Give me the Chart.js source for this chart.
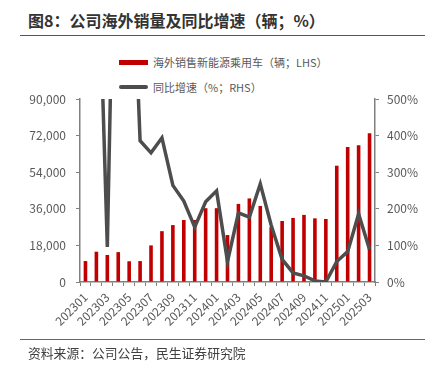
<!DOCTYPE html>
<html>
<head>
<meta charset="utf-8">
<script src="https://cdn.jsdelivr.net/npm/chart.js@4"></script>
<style>
  html, body { margin: 0; padding: 0; background: #fff; }
  body { width: 434px; height: 373px; position: relative; overflow: hidden;
         font-family: "Noto Sans CJK SC", "Noto Sans", sans-serif; }
  #title { position: absolute; left: 28px; top: 8px; font-size: 16px; font-weight: bold; color: #333; white-space: nowrap; }
  #topline { position: absolute; left: 20px; top: 35px; width: 405px; height: 0; border-top: 1.5px solid #555; }
  #botline { position: absolute; left: 20px; top: 339px; width: 405px; height: 0; border-top: 1.5px solid #666; }
  #source { position: absolute; left: 28px; top: 343px; font-size: 12.8px; color: #404040; white-space: nowrap; }
  .leg { position: absolute; left: 119px; font-size: 11px; color: #595959; white-space: nowrap; display: flex; align-items: center; }
  .leg .mk { display: inline-block; width: 29px; margin-right: 5px; }
  #leg1 { top: 54px; }
  #leg1 .mk { height: 5px; background: #C00000; }
  #leg2 { top: 79px; }
  #leg2 .mk { height: 4px; background: #4d4d4d; border-radius: 2px; }
  canvas { position: absolute; left: 0; top: 0; }
</style>
</head>
<body>
<div id="title">图8：公司海外销量及同比增速（辆；%）</div>
<div id="topline"></div>
<div class="leg" id="leg1"><span class="mk"></span><span>海外销售新能源乘用车（辆；LHS）</span></div>
<div class="leg" id="leg2"><span class="mk"></span><span>同比增速（%；RHS）</span></div>
<canvas id="c" width="434" height="373"></canvas>
<div id="botline"></div>
<div id="source">资料来源：公司公告，民生证券研究院</div>
<script>
const months = ['202301','202302','202303','202304','202305','202306','202307','202308','202309','202310','202311','202312',
                '202401','202402','202403','202404','202405','202406','202407','202408','202409','202410','202411','202412',
                '202501','202502','202503'];
const overseasSales = [10300, 14900, 13300, 14700, 10200, 10300, 18000, 25000, 28000, 30500, 30500, 36300,
                       36300, 23100, 38400, 41100, 37400, 27000, 30000, 31500, 33000, 31300, 31000, 57200,
                       66400, 67200, 73100];
const yoyGrowth = [1200, 1090, 96, 1570, 1140, 386, 353, 394, 264, 221, 150, 219,
                   249, 56, 189, 177, 268, 155, 62, 25, 17, 3, 0, 56,
                   83, 186, 89];
const leftTicks = [0, 18000, 36000, 54000, 72000, 90000];
const rightTicks = [0, 100, 200, 300, 400, 500];

const tickFont = { family: '"Noto Sans CJK SC", "Noto Sans", sans-serif', size: 12 };
const tickColor = '#595959';
const axisColor = '#808080';

new Chart(document.getElementById('c'), {
  data: {
    labels: months,
    datasets: [
      { type: 'line', label: '同比增速（%；RHS）', data: yoyGrowth, yAxisID: 'y1', order: 0,
        borderColor: '#4d4d4d', borderWidth: 3.5, pointRadius: 0, tension: 0, fill: false },
      { type: 'bar', label: '海外销售新能源乘用车（辆；LHS）', data: overseasSales, yAxisID: 'y', order: 1,
        backgroundColor: '#C00000', barPercentage: 0.33, categoryPercentage: 1 }
    ]
  },
  options: {
    responsive: false,
    animation: false,
    layout: { padding: { top: 99, left: 0, right: 0, bottom: 0 } },
    plugins: { legend: { display: false }, tooltip: { enabled: false } },
    scales: {
      x: {
        offset: true,
        grid: { display: true, drawOnChartArea: false, drawTicks: true, tickLength: 4, color: axisColor, offset: true },
        border: { display: true, color: axisColor, width: 1.5 },
        ticks: { autoSkip: false, maxRotation: 45, minRotation: 45, color: tickColor, font: tickFont, padding: 4,
                 callback: function(v, i) { return i % 2 === 0 ? months[i] : ''; } },
        afterFit: function(s) { s.height = 91; }
      },
      y: {
        position: 'left', min: 0, max: 90000,
        afterBuildTicks: function(s) { s.ticks = leftTicks.map(v => ({ value: v })); },
        grid: { display: true, drawOnChartArea: false, drawTicks: true, tickLength: 4, color: axisColor },
        border: { display: true, color: axisColor, width: 1.5 },
        ticks: { color: tickColor, font: tickFont, padding: 10,
                 callback: function(v) { return v.toLocaleString('en-US'); } },
        afterFit: function(s) { s.width = 80; }
      },
      y1: {
        position: 'right', min: 0, max: 500,
        afterBuildTicks: function(s) { s.ticks = rightTicks.map(v => ({ value: v })); },
        grid: { display: true, drawOnChartArea: false, drawTicks: true, tickLength: 4, color: axisColor },
        border: { display: true, color: axisColor, width: 1.5 },
        ticks: { color: tickColor, font: tickFont, padding: 8,
                 callback: function(v) { return v + '%'; } },
        afterFit: function(s) { s.width = 59; }
      }
    }
  }
});
</script>
</body>
</html>
